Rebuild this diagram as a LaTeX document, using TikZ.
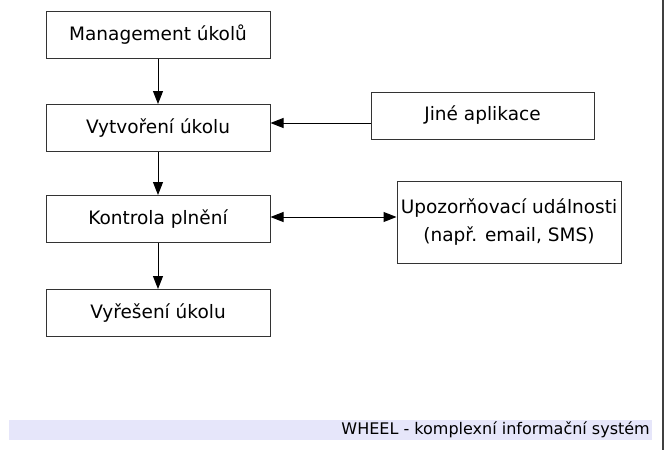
\documentclass[tikz,border=0pt]{standalone}
\usepackage{fontspec}
\setmainfont{DejaVu Sans}
\usetikzlibrary{arrows.meta}
\usetikzlibrary{calc}

\begin{document}
\begin{tikzpicture}[x=1pt,y=-1pt,
    box/.style={draw=black!80, line width=1pt, minimum width=224pt, minimum height=47pt,
        inner sep=0pt, align=center, font=\fontsize{18.5}{28}\selectfont},
    tip/.style={Triangle[length=13pt,width=10pt]},
    arr/.style={line width=1pt, -{Triangle[length=13pt,width=10pt]}},
    dblarr/.style={line width=1pt, {Triangle[length=13pt,width=10pt]}-{Triangle[length=13pt,width=10pt]}}]

    \useasboundingbox (0,0) rectangle (667,450);

    \node[box] (mgmt) at (158, 34.5) {Management úkolů};
    \node[box] (vytvor) at (158, 128) {Vytvoření úkolu};
    \node[box] (kontrola) at (158, 219) {Kontrola plnění};
    \node[box] (vyreseni) at (158, 313) {Vyřešení úkolu};
    \node[box, minimum width=223pt] (jine) at (482.5, 115.5) {Jiné aplikace};
    \node[box, minimum height=82pt] (upoz) at (509, 222) {Upozorňovací událnosti\\(např. email, SMS)};

    \draw[arr] (mgmt) -- (vytvor);
    \draw[arr] (vytvor) -- (kontrola);
    \draw[arr] (kontrola) -- (vyreseni);

    \coordinate (jinein) at ($(jine.west)+(0,7.5)$);
    \draw[arr] (jinein) -- (jinein -| vytvor.east);
    \coordinate (kontout) at ($(kontrola.east)+(0,-2)$);
    \draw[dblarr] (kontout) -- (kontout -| upoz.west);

    % footer
    \fill[fill={rgb,255:red,230;green,230;blue,250}] (9,420) rectangle (652,440);
    \node[anchor=east, inner sep=0pt, font=\fontsize{16}{18}\selectfont] (footer) at (650,430) {WHEEL - komplexní informační systém};

    \draw[line width=2.3pt, black!75] (663,0) -- (663,450);
\end{tikzpicture}
\end{document}
